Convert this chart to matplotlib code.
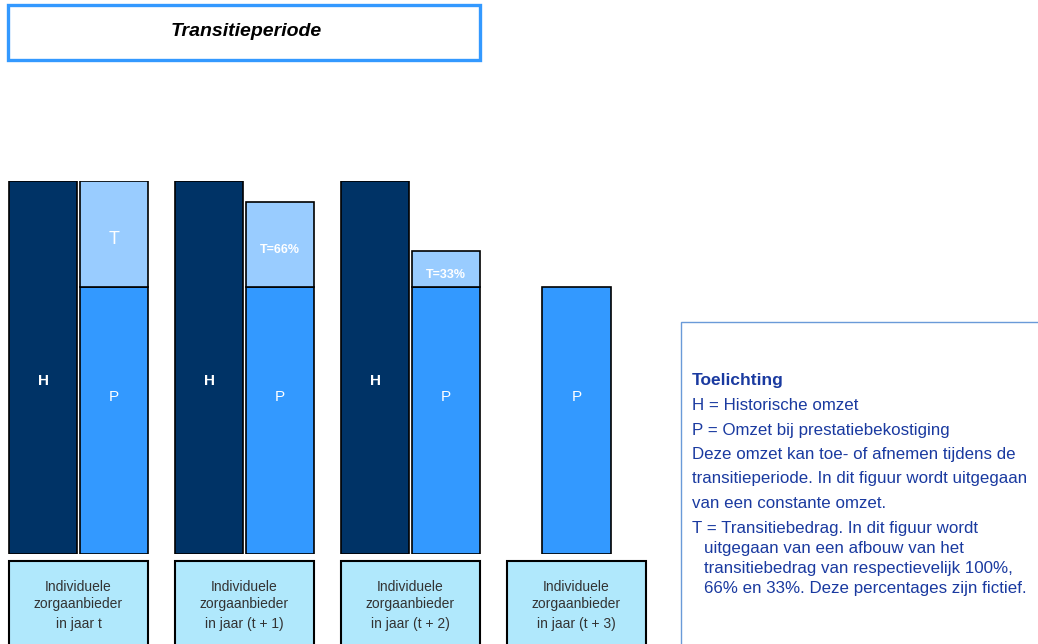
import matplotlib
matplotlib.use('Agg')
import matplotlib.pyplot as plt
from matplotlib.patches import Rectangle

plt.rcParams['font.family'] = ['Liberation Sans', 'DejaVu Sans']

# data
years = ['t', '(t + 1)', '(t + 2)', '(t + 3)']
hist = [100, 100, 100, 0]          # H = historische omzet
prest = [71.5, 71.5, 71.5, 71.5]   # P = omzet bij prestatiebekostiging
trans = [28.5, 22.8, 9.7, 0]       # T = transitiebedrag
trans_labels = ['T', 'T=66%', 'T=33%', '']

C_H = '#003366'
C_P = '#3399FF'
C_T = '#99CCFF'
C_BOX = '#B0E8FC'
C_TXT = '#1A3AA0'

W, H_PX = 1038, 644
fig = plt.figure(figsize=(W / 100, H_PX / 100), dpi=100)


def fx(x):
    return x / W


def fy(y):
    return 1 - y / H_PX


# title box
fig.patches.append(Rectangle((fx(8), fy(60)), fx(472), 55 / H_PX, transform=fig.transFigure,
                             fill=False, ec='#3399FF', lw=2.4))
fig.text(fx(246), fy(32), 'Transitieperiode', ha='center', va='center',
         fontsize=14, fontweight='bold', fontstyle='italic')

# bars
ax = fig.add_axes([0, fy(554), fx(660), 373 / H_PX])
ax.set_xlim(-9 / 166, 651 / 166)
ax.set_ylim(0, 100)
ax.axis('off')

bw = 0.41
for i, yr in enumerate(years):
    if hist[i] > 0:
        xp = i + 0.428
        ax.bar(i, hist[i], width=bw, align='edge', color=C_H, ec='black', lw=1.2)
        ax.text(i + bw / 2, hist[i] * 0.464, 'H', color='white', ha='center', va='center',
                fontsize=11, fontweight='bold')
    else:
        xp = i + (0.837 - bw) / 2
    ax.bar(xp, prest[i], width=bw, align='edge', color=C_P, ec='black', lw=1.2)
    ax.text(xp + bw / 2, prest[i] * 0.59, 'P', color='white', ha='center', va='center',
            fontsize=11)
    if trans[i] > 0:
        ax.bar(xp, trans[i], bottom=prest[i], width=bw, align='edge', color=C_T,
               ec='black', lw=1.2)
        big = trans_labels[i] == 'T'
        ax.text(xp + bw / 2, prest[i] + trans[i] / 2 - 1.5, trans_labels[i], color='white',
                ha='center', va='center', fontsize=13 if big else 9,
                fontweight='normal' if big else 'bold')
    # label box under the bars
    ax.add_patch(Rectangle((i, -1.9), 0.837, -30, facecolor=C_BOX, ec='black', lw=1.5,
                           clip_on=False))
    for dy, s in [(-8.9, 'Individuele'), (-13.5, 'zorgaanbieder'), (-18.7, 'in jaar ' + yr)]:
        ax.text(i + 0.4185, dy, s, ha='center', va='center', fontsize=10, color='#333333')

# toelichting box
fig.patches.append(Rectangle((fx(681), fy(650)), fx(400), 328 / H_PX, transform=fig.transFigure,
                             fill=False, ec='#6A9AD8', lw=1))
fig.text(fx(692), fy(381), 'Toelichting', ha='left', va='center', fontsize=12.5,
         fontweight='bold', color=C_TXT)
lines = [
    (692, 405, 'H = Historische omzet'),
    (692, 430, 'P = Omzet bij prestatiebekostiging'),
    (692, 454, 'Deze omzet kan toe- of afnemen tijdens de'),
    (692, 479, 'transitieperiode. In dit figuur wordt uitgegaan'),
    (692, 504, 'van een constante omzet.'),
    (692, 528, 'T = Transitiebedrag. In dit figuur wordt'),
    (704, 548, 'uitgegaan van een afbouw van het'),
    (704, 568, 'transitiebedrag van respectievelijk 100%,'),
    (704, 589, '66% en 33%. Deze percentages zijn fictief.'),
]
for x, y, s in lines:
    fig.text(fx(x), fy(y), s, ha='left', va='center', fontsize=12.2, color=C_TXT)

fig.savefig('out.png', dpi=100)
